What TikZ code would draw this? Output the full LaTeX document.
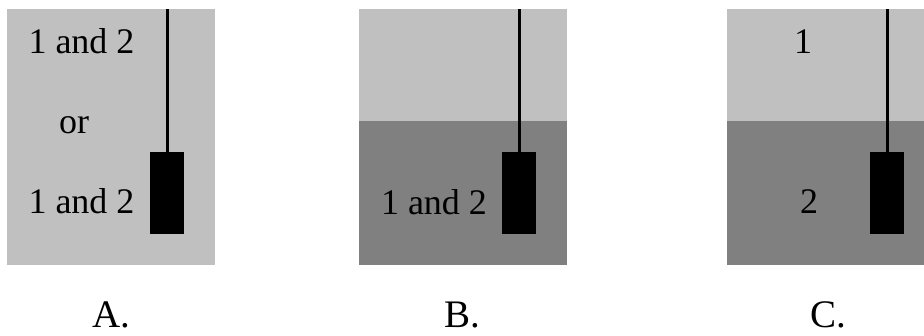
\documentclass[tikz,border=0pt]{standalone}
\usepackage{fontspec}
\setmainfont{Liberation Serif}
\definecolor{lightg}{RGB}{192,192,192}
\definecolor{darkg}{RGB}{128,128,128}
\begin{document}
\begin{tikzpicture}[x=1pt,y=-1pt,
  txt/.style={anchor=base,inner sep=0pt,font=\fontsize{36}{36}\selectfont},
  lbl/.style={anchor=base,inner sep=0pt,text depth=0pt,font=\fontsize{39}{39}\selectfont},
  block/.style={fill=black,draw=none,minimum width=34pt,minimum height=82pt,inner sep=0pt,anchor=north},
  wire/.style={line width=3pt}]
\useasboundingbox (0,0) rectangle (924,335);
% panel A
\fill[lightg] (7,9) rectangle (215,265);
\node[block] (ba) at (167,152) {};
\coordinate (ta) at (167,9);
\draw[wire] (ta) -- (ba.north);
\node[txt] (a1) at (81.5,53) {1 and 2};
\node[txt] (a2) at (74,133) {or};
\node[txt] (a3) at (81.5,213) {1 and 2};
\node[lbl] (la) at (111,327) {A.};
% panel B
\fill[lightg] (359,9) rectangle (567,121);
\fill[darkg] (359,121) rectangle (567,265);
\node[block] (bb) at (519,152) {};
\coordinate (tb) at (519,9);
\draw[wire] (tb) -- (bb.north);
\node[txt] (b1) at (434,214) {1 and 2};
\node[lbl] (lb) at (462,327) {B.};
% panel C
\fill[lightg] (727,9) rectangle (924,121);
\fill[darkg] (727,121) rectangle (924,265);
\node[block] (bc) at (887,152) {};
\coordinate (tc) at (887,9);
\draw[wire] (tc) -- (bc.north);
\node[txt] (c1) at (803,53) {1};
\node[txt] (c2) at (809,213) {2};
\node[lbl] (lc) at (828,327) {C.};
\end{tikzpicture}
\end{document}
